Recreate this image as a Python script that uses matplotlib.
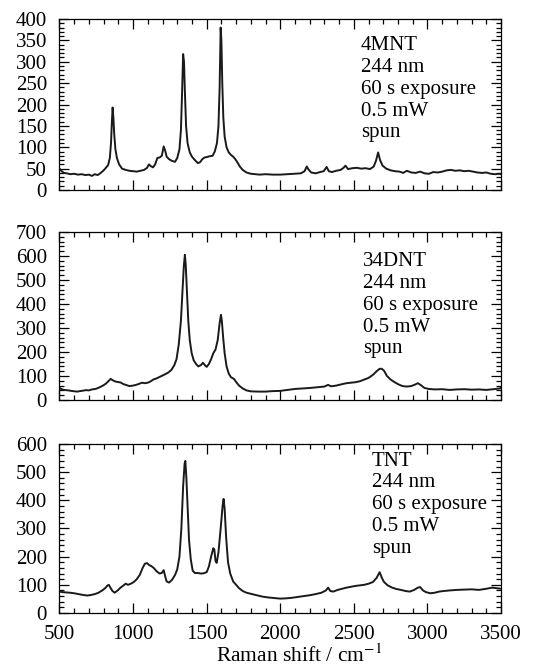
import matplotlib
matplotlib.use('Agg')
import matplotlib.pyplot as plt
from matplotlib.ticker import MultipleLocator

plt.rcParams['font.family'] = ['Liberation Serif', 'DejaVu Serif']
plt.rcParams['mathtext.fontset'] = 'stix'

# 4MNT spectrum (Raman shift in cm-1, counts)
mnt_shift = [500, 515, 530, 550, 575, 600, 625, 650, 675, 700, 720, 740, 760, 780, 800,
             815, 830, 842, 850, 856, 861, 866, 872, 880, 890, 905, 925, 950, 975, 1000,
             1025, 1050, 1075, 1095, 1108, 1120, 1135, 1150, 1165, 1180, 1195, 1208, 1218,
             1228, 1245, 1265, 1285, 1300, 1315, 1325, 1333, 1340, 1346, 1352, 1360, 1370,
             1385, 1400, 1420, 1440, 1455, 1470, 1485, 1500, 1520, 1540, 1555, 1570, 1580,
             1588, 1595, 1600, 1606, 1613, 1622, 1635, 1650, 1665, 1680, 1695, 1710, 1725,
             1745, 1770, 1800, 1830, 1860, 1900, 1950, 2000, 2050, 2100, 2140, 2165, 2180,
             2192, 2210, 2240, 2270, 2295, 2315, 2330, 2350, 2380, 2410, 2430, 2443, 2460,
             2490, 2520, 2550, 2580, 2610, 2635, 2650, 2665, 2678, 2695, 2720, 2750, 2780,
             2810, 2835, 2860, 2890, 2920, 2950, 2980, 3010, 3040, 3070, 3100, 3130, 3160,
             3190, 3220, 3250, 3280, 3310, 3340, 3370, 3400, 3430, 3460, 3490, 3500]
mnt_counts = [50, 44, 40, 39, 37, 38, 36, 37, 35, 36, 33, 37, 35, 40, 46,
              52, 58, 75, 110, 160, 193, 170, 130, 95, 75, 60, 50, 47, 45, 44,
              43, 45, 47, 52, 60, 56, 53, 60, 75, 76, 80, 102, 92,
              78, 72, 68, 66, 75, 95, 140, 230, 318, 300, 230, 150, 110,
              88, 78, 70, 63, 65, 72, 76, 77, 79, 80, 90, 110, 150,
              240, 380, 350, 250, 170, 125, 100, 88, 82, 78, 72, 64, 55,
              47, 41, 38, 37, 36, 37, 36, 36, 37, 38, 39, 44, 55,
              48, 41, 39, 42, 44, 54, 44, 42, 45, 47, 52, 57, 49,
              51, 52, 50, 51, 49, 55, 68, 88, 70, 57, 50, 46, 44,
              43, 40, 45, 41, 40, 43, 39, 38, 42, 41, 43, 46, 47,
              45, 46, 44, 45, 43, 41, 40, 41, 38, 37, 38, 37]

# 34DNT spectrum
dnt_shift = [500, 515, 530, 560, 590, 620, 650, 680, 700, 720, 745, 770, 795, 815, 835,
             848, 860, 875, 895, 915, 935, 955, 975, 1000, 1020, 1040, 1060, 1080, 1100,
             1120, 1140, 1160, 1180, 1200, 1220, 1240, 1260, 1280, 1295, 1310, 1325, 1337,
             1345, 1352, 1358, 1366, 1375, 1385, 1398, 1412, 1428, 1443, 1460, 1475, 1488,
             1500, 1515, 1530, 1545, 1560, 1575, 1588, 1597, 1603, 1612, 1622, 1635, 1650,
             1665, 1685, 1700, 1720, 1745, 1770, 1800, 1850, 1900, 1950, 2000, 2050, 2100,
             2150, 2200, 2250, 2300, 2325, 2345, 2380, 2420, 2450, 2480, 2510, 2540, 2570,
             2600, 2630, 2655, 2675, 2690, 2705, 2725, 2750, 2775, 2800, 2830, 2860, 2890,
             2915, 2935, 2955, 2980, 3010, 3050, 3100, 3150, 3200, 3250, 3300, 3350, 3400,
             3450, 3490, 3500]
dnt_counts = [50, 45, 42, 40, 37, 35, 38, 41, 40, 44, 46, 52, 60, 68, 80,
              88, 83, 78, 75, 73, 66, 62, 58, 60, 63, 67, 72, 70, 72,
              78, 86, 90, 96, 102, 108, 115, 125, 145, 170, 230, 330, 470,
              560, 605, 560, 450, 330, 250, 195, 165, 150, 140, 145, 155, 145,
              138, 150, 170, 195, 210, 250, 320, 355, 330, 260, 195, 140, 110,
              95, 88, 75, 60, 48, 40, 36, 35, 35, 37, 38, 42, 46,
              48, 50, 53, 56, 63, 57, 60, 66, 70, 72, 74, 78, 85,
              92, 105, 120, 130, 130, 122, 100, 85, 75, 66, 58, 56, 58,
              64, 70, 62, 50, 46, 44, 45, 42, 44, 45, 43, 44, 42,
              45, 48, 50]

# TNT spectrum
tnt_shift = [500, 520, 545, 570, 600, 630, 660, 690, 715, 740, 765, 790, 810, 825, 835,
             848, 860, 875, 895, 915, 935, 950, 965, 985, 1005, 1025, 1045, 1065, 1080,
             1095, 1110, 1125, 1140, 1160, 1180, 1195, 1208, 1218, 1228, 1245, 1265, 1285,
             1300, 1315, 1328, 1340, 1350, 1355, 1362, 1370, 1380, 1392, 1405, 1420, 1440,
             1460, 1480, 1500, 1515, 1530, 1545, 1552, 1560, 1568, 1580, 1595, 1608, 1615,
             1622, 1632, 1645, 1660, 1680, 1700, 1720, 1745, 1770, 1800, 1840, 1880, 1920,
             1960, 2000, 2040, 2080, 2120, 2160, 2200, 2240, 2280, 2310, 2325, 2340, 2360,
             2390, 2420, 2450, 2480, 2510, 2540, 2570, 2600, 2630, 2655, 2675, 2690, 2705,
             2730, 2760, 2790, 2820, 2850, 2880, 2910, 2935, 2950, 2970, 2990, 3020, 3050,
             3080, 3110, 3150, 3200, 3250, 3300, 3350, 3400, 3440, 3470, 3500]
tnt_counts = [76, 74, 73, 72, 70, 67, 64, 62, 64, 67, 72, 80, 88, 97, 100,
              88, 78, 72, 80, 90, 98, 104, 100, 104, 110, 120, 135, 160, 175,
              177, 170, 166, 160, 148, 140, 142, 152, 130, 112, 108, 118, 135,
              155, 200, 300, 450, 530, 540, 480, 380, 260, 190, 150, 142, 142,
              140, 141, 145, 165, 200, 230, 225, 185, 178, 215, 300, 380, 405,
              370, 270, 180, 140, 112, 100, 88, 78, 72, 68, 63, 58, 55,
              53, 51, 52, 54, 57, 60, 63, 67, 72, 80, 90, 78, 76,
              82, 86, 90, 93, 96, 98, 100, 104, 110, 125, 145, 125, 110,
              98, 90, 85, 82, 78, 76, 82, 90, 92, 80, 74, 70, 72,
              76, 78, 80, 82, 83, 84, 82, 86, 90, 88, 86]

labels = ['4MNT', '34DNT', 'TNT']
conditions = '244 nm\n60 s exposure\n0.5 mW\nspun'
y_max = [400, 700, 600]
y_major = [50, 100, 100]
y_minor = [10, 20, 20]

fig = plt.figure(figsize=(5.54, 6.70), dpi=100)
boxes = [[0.1074, 0.7164, 0.797, 0.2552],
         [0.1074, 0.4030, 0.797, 0.2507],
         [0.1074, 0.0851, 0.797, 0.2522]]
text_pos = [(0.682, 0.90), (0.687, 0.88), (0.707, 0.955)]
spectra = [(mnt_shift, mnt_counts), (dnt_shift, dnt_counts), (tnt_shift, tnt_counts)]

for i in range(3):
    ax = fig.add_axes(boxes[i])
    x, y = spectra[i]
    ax.plot(x, y, color='#1a1a1a', lw=1.4)
    ax.set_xlim(500, 3500)
    ax.set_ylim(0, y_max[i])
    ax.xaxis.set_major_locator(MultipleLocator(500))
    ax.xaxis.set_minor_locator(MultipleLocator(100))
    ax.yaxis.set_major_locator(MultipleLocator(y_major[i]))
    ax.yaxis.set_minor_locator(MultipleLocator(y_minor[i]))
    ax.tick_params(which='both', direction='in', top=True, right=True, width=0.9)
    ax.tick_params(axis='y', labelsize=15, pad=9)
    ax.tick_params(axis='x', labelsize=15, pad=9)
    ax.tick_params(which='major', length=7)
    ax.tick_params(which='minor', length=3.5)
    for s in ax.spines.values():
        s.set_linewidth(0.9)
    if i < 2:
        ax.set_xticklabels([])
    ax.text(text_pos[i][0], text_pos[i][1], labels[i] + '\n' + conditions,
            transform=ax.transAxes, fontsize=15, va='top', ha='left', linespacing=1.2)

fig.text(0.54, 0.022, 'Raman shift / cm$^{-1}$', fontsize=15.5, ha='center', va='center')

plt.savefig('out.png', dpi=100)
plt.close(fig)
